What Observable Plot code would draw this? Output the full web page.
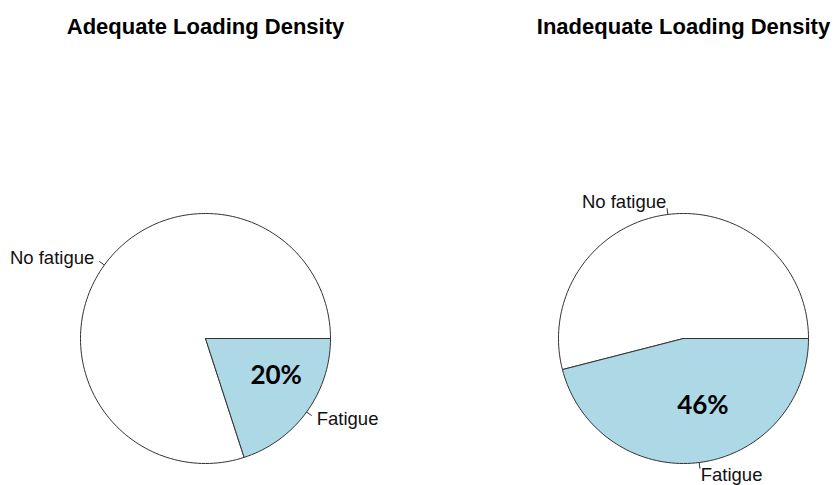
<!DOCTYPE html>
<html>
<head>
<meta charset="utf-8">
<script src="https://cdn.jsdelivr.net/npm/d3@7"></script>
<script src="https://cdn.jsdelivr.net/npm/@observablehq/plot@0.6"></script>
<style>
  html, body { margin: 0; padding: 0; background: #fff; }
</style>
</head>
<body>
<div id="chart"></div>
<script>
// ---- data ----
const groups = ["Adequate Loading Density", "Inadequate Loading Density"];
const categories = ["No fatigue", "Fatigue"];
const noFatigue = [80, 54];
const fatigue = [20, 46];
const sliceColors = ["white", "lightblue"];
const percentLabels = ["20%", "46%"];

// ---- layout (pixels) ----
const W = 839, H = 485;
const R = 125;             // pie radius in px (1 data unit)
const centerPx = [205, 683];
const centerYPx = 338;
const titleYPx = 26;

// pie centers in data units
const cxs = centerPx.map(p => (p - centerPx[0]) / R);
const xDomain = [-centerPx[0] / R, (W - centerPx[0]) / R];
const yDomain = [-(H - centerYPx) / R, centerYPx / R];
const titleY = (centerYPx - titleYPx) / R;

// build slices (base R pie: counterclockwise from 3 o'clock)
const polys = [];
const leaders = [];
const labels = [];
const pcts = [];
groups.forEach((g, i) => {
  const vals = [noFatigue[i], fatigue[i]];
  const total = d3.sum(vals);
  let cum = 0;
  vals.forEach((v, j) => {
    const a0 = 2 * Math.PI * cum / total;
    cum += v;
    const a1 = 2 * Math.PI * cum / total;
    const n = Math.max(2, Math.floor(200 * v / total));
    const pts = [{x: cxs[i], y: 0}];
    for (let k = 0; k <= n; k++) {
      const a = a0 + (a1 - a0) * k / n;
      pts.push({x: cxs[i] + Math.cos(a), y: Math.sin(a)});
    }
    pts.push({x: cxs[i], y: 0});
    polys.push({pts, fill: sliceColors[j]});
    const m = (a0 + a1) / 2;
    const c = Math.cos(m), s = Math.sin(m);
    leaders.push({x1: cxs[i] + c, y1: s, x2: cxs[i] + 1.05 * c, y2: 1.05 * s});
    labels.push({x: cxs[i] + 1.1 * c, y: 1.1 * s, text: categories[j], anchor: c < 0 ? "end" : "start"});
    if (j === 1) pcts.push({x: cxs[i] + 0.6 * c, y: 0.6 * s, text: percentLabels[i]});
  });
});

const marks = [];
polys.forEach(p => {
  marks.push(Plot.line(p.pts, {x: "x", y: "y", fill: p.fill, stroke: "#333", strokeWidth: 1, curve: "linear"}));
});
marks.push(Plot.link(leaders, {x1: "x1", y1: "y1", x2: "x2", y2: "y2", stroke: "#333", strokeWidth: 1}));
marks.push(Plot.text(labels.filter(d => d.anchor === "end"), {x: "x", y: "y", text: "text", textAnchor: "end", fontSize: 18.5, fontFamily: "Liberation Sans, Arial, sans-serif", fill: "#111"}));
marks.push(Plot.text(labels.filter(d => d.anchor === "start"), {x: "x", y: "y", text: "text", textAnchor: "start", fontSize: 18.5, fontFamily: "Liberation Sans, Arial, sans-serif", fill: "#111"}));
marks.push(Plot.text(pcts, {x: "x", y: "y", text: "text", dx: 10, dy: -7, fontSize: 26, fontWeight: "bold", fontFamily: "Lato, 'Open Sans', sans-serif", fill: "#000"}));
marks.push(Plot.text(groups.map((g, i) => ({x: cxs[i], y: titleY, text: g})), {x: "x", y: "y", text: "text", fontSize: 22, fontWeight: "bold", fontFamily: "Liberation Sans, Arial, sans-serif", fill: "#000"}));

const chart = Plot.plot({
  width: W,
  height: H,
  margin: 0,
  x: {domain: xDomain, range: [0, W], axis: null},
  y: {domain: yDomain, range: [H, 0], axis: null},
  style: {background: "#fff", overflow: "visible"},
  marks
});
document.getElementById("chart").appendChild(chart);
</script>
</body>
</html>
